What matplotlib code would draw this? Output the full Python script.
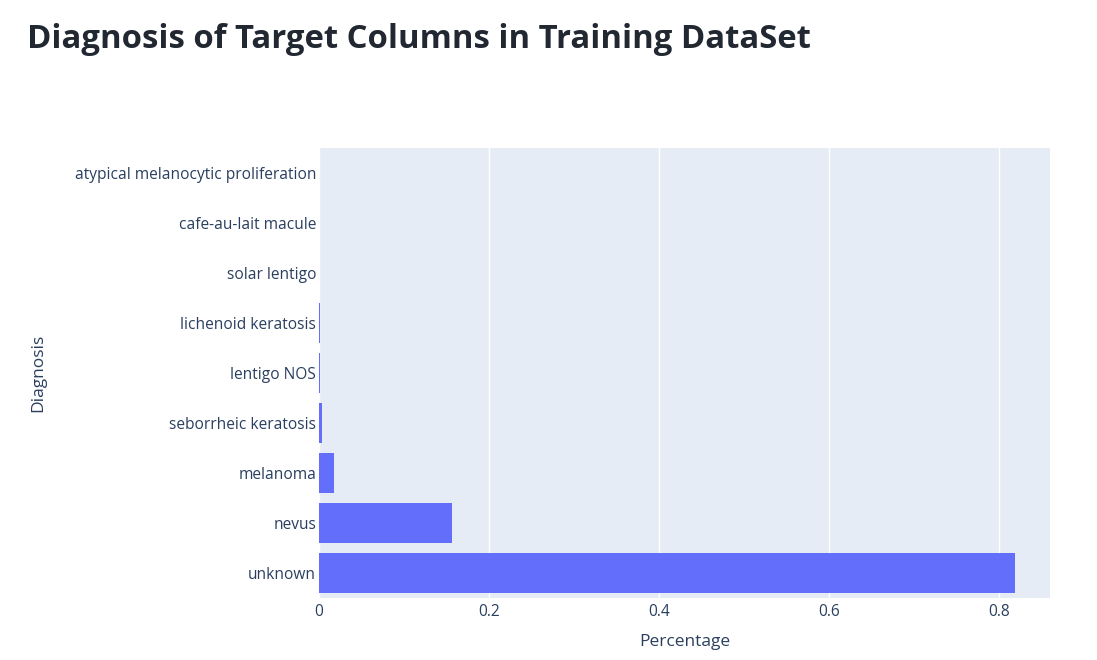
import matplotlib
matplotlib.use("Agg")
import matplotlib.pyplot as plt

categories = ["unknown", "nevus", "melanoma", "seborrheic keratosis", "lentigo NOS",
              "lichenoid keratosis", "solar lentigo", "cafe-au-lait macule",
              "atypical melanocytic proliferation"]
percentages = [0.81881, 0.15677, 0.01763, 0.00408, 0.00133, 0.00112, 0.00021, 0.00003, 0.00003]
xticks = [0, 0.2, 0.4, 0.6, 0.8]
xtick_labels = ["0", "0.2", "0.4", "0.6", "0.8"]

W, H = 1097, 660
fig = plt.figure(figsize=(W / 100, H / 100), dpi=100)
ax = fig.add_axes([319 / W, 1 - 598 / H, (1050 - 319) / W, (598 - 148) / H])
ax.set_facecolor("#E5ECF6")
ypos = list(range(len(categories)))
ax.barh(ypos, percentages, height=0.8, color="#636efa", zorder=3)
ax.set_ylim(-0.5, len(categories) - 0.5)
ax.set_xlim(0, 0.86)
ax.set_xticks(xticks)
ax.set_xticklabels(xtick_labels)
ax.set_yticks(ypos)
ax.set_yticklabels(categories)
ax.grid(axis="x", color="white", linewidth=1, zorder=1)
ax.set_axisbelow(True)
for s in ax.spines.values():
    s.set_visible(False)
ax.tick_params(axis="both", length=0, labelsize=11.2, colors="#2a3f5f", labelfontfamily="Open Sans")
ax.tick_params(axis="x", pad=4)
ax.tick_params(axis="y", pad=2)
xl = ax.set_xlabel("Percentage", fontsize=12.5, color="#2a3f5f", family="Open Sans")
yl = ax.set_ylabel("Diagnosis", fontsize=12.5, color="#2a3f5f", family="Open Sans")
xl.set_verticalalignment("center")
yl.set_verticalalignment("center")
ax.xaxis.set_label_coords(0.5, (598 - 642) / 450)
ax.yaxis.set_label_coords((38 - 319) / 731, 0.5)
fig.text(27 / W, 1 - 39 / H, "Diagnosis of Target Columns in Training DataSet",
         fontsize=23.7, fontweight="bold", color="#222831", family="Open Sans", va="center", ha="left")
fig.savefig("out.png", dpi=100)
